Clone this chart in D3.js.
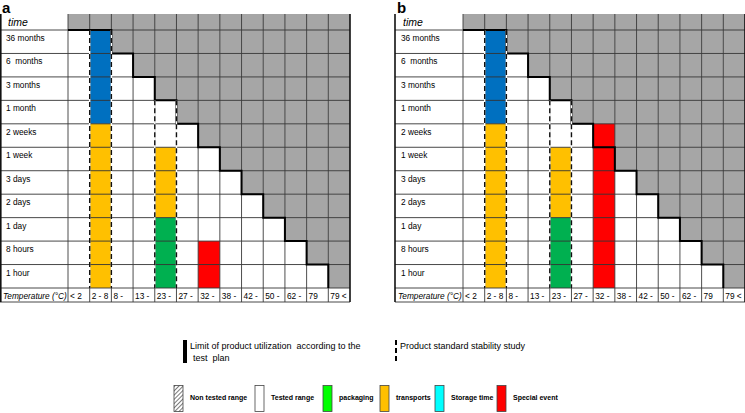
<!DOCTYPE html>
<html><head><meta charset="utf-8">
<script src="https://cdn.jsdelivr.net/npm/d3@7"></script>
<style>body{margin:0;background:#fff}svg{display:block}text{font-family:"Liberation Sans",Arial,sans-serif}</style>
</head><body><svg id="c" width="745" height="413"></svg>
<script>
const times = ["36 months","6  months","3 months","1 month","2 weeks","1 week","3 days","2 days","1 day","8 hours","1 hour"];
const temps = ["< 2","2 - 8","8 -","13 -","23 -","27 -","32 -","38 -","42 -","50 -","62 -","79","79 <"];
// last tested temperature for each duration (limit of the test plan)
const limitTemp = ["2 - 8","8 -","13 -","23 -","27 -","32 -","38 -","42 -","50 -","62 -","79"];
// colored ranges: [temperature, from time, to time, type]
const bandsA = [
  ["2 - 8","36 months","1 month","storage"],
  ["2 - 8","2 weeks","1 hour","transports"],
  ["23 -","1 week","2 days","transports"],
  ["23 -","1 day","1 hour","packaging"],
  ["32 -","8 hours","1 hour","special"]
];
const bandsB = [
  ["2 - 8","36 months","1 month","storage"],
  ["2 - 8","2 weeks","1 hour","transports"],
  ["23 -","1 week","2 days","transports"],
  ["23 -","1 day","1 hour","packaging"],
  ["32 -","2 weeks","1 hour","special"]
];
// standard stability study (dashed borders): [temperature, starting time]
const studies = [["2 - 8","36 months"],["23 -","1 month"]];
const legendItems = [
  ["Non tested range","hatch"],["Tested range","#ffffff"],["packaging","#00ff00"],
  ["transports","#ffc000"],["Storage time","#00ffff"],["Special event","#ff0000"]
];
const colors = {storage:"#0070c0", transports:"#ffc000", packaging:"#00b050", special:"#ff0000"};

const svg = d3.select("#c");
const defs = svg.append("defs");
const pat = defs.append("pattern").attr("id","hatch").attr("patternUnits","userSpaceOnUse")
  .attr("width",3).attr("height",3).attr("patternTransform","rotate(45)");
pat.append("rect").attr("width",3).attr("height",3).attr("fill","#fff");
pat.append("line").attr("x1",0).attr("y1",0).attr("x2",0).attr("y2",3).attr("stroke","#333").attr("stroke-width",1.3);

const panels = [{key:"a", x0:0, bands:bandsA},{key:"b", x0:395, bands:bandsB}];
const tTop = 14, headB = 30, tableB = 288, tBottom = 302, labW = 68, tRight = 350;

panels.forEach(p => {
  const g = svg.append("g").attr("transform",`translate(${p.x0},0)`);
  const x = d3.scaleBand().domain(temps).range([labW,tRight]);
  const y = d3.scaleBand().domain(times).range([headB,tableB]);
  const bw = x.bandwidth(), bh = y.bandwidth();
  g.append("rect").attr("x",labW).attr("y",tTop).attr("width",tRight-labW).attr("height",headB-tTop).attr("fill","#a6a6a6");
  times.forEach((t,i) => {
    const li = temps.indexOf(limitTemp[i]);
    temps.forEach((tp,j) => {
      g.append("rect").attr("x",x(tp)).attr("y",y(t)).attr("width",bw).attr("height",bh)
        .attr("fill", j>li ? "#a6a6a6" : "#ffffff");
    });
  });
  p.bands.forEach(b => {
    g.append("rect").attr("x",x(b[0])).attr("y",y(b[1])).attr("width",bw)
      .attr("height",y(b[2])+bh-y(b[1])).attr("fill",colors[b[3]]);
  });
  const hs = [headB, ...times.slice(1).map(t=>y(t)), tableB, tBottom];
  hs.forEach(v => g.append("line").attr("x1",0).attr("x2",tRight).attr("y1",v).attr("y2",v)
    .attr("stroke","#333").attr("stroke-width",0.9));
  const vs = [labW, ...temps.slice(1).map(t=>x(t))];
  vs.forEach(v => g.append("line").attr("x1",v).attr("x2",v).attr("y1",tTop).attr("y2",tBottom)
    .attr("stroke","#3a3a3a").attr("stroke-width",0.9));
  const lx0 = p.x0===0 ? 0.8 : 0;
  g.append("line").attr("x1",lx0).attr("x2",lx0).attr("y1",tTop).attr("y2",tBottom).attr("stroke","#111").attr("stroke-width",1.6);
  g.append("line").attr("x1",tRight).attr("x2",tRight).attr("y1",tTop).attr("y2",tBottom).attr("stroke","#111").attr("stroke-width",1.6);
  let pts = [[labW, headB]];
  times.forEach((t,i) => {
    const xe = x(limitTemp[i]) + bw;
    pts.push([xe, y(t)]);
    pts.push([xe, y(t)+bh]);
  });
  g.append("path").attr("d", d3.line()(pts)).attr("fill","none").attr("stroke","#000").attr("stroke-width",2);
  studies.forEach(s => {
    [x(s[0]), x(s[0])+bw].forEach(xv => {
      g.append("line").attr("x1",xv).attr("x2",xv).attr("y1",y(s[1])).attr("y2",tableB)
        .attr("stroke","#fff").attr("stroke-width",1.4);
      g.append("line").attr("x1",xv).attr("x2",xv).attr("y1",y(s[1])).attr("y2",tableB)
        .attr("stroke","#111").attr("stroke-width",1.4).attr("stroke-dasharray","5,3");
    });
  });
  g.append("text").attr("x",2).attr("y",13).attr("font-size",15).attr("font-weight","bold").text(p.key);
  g.append("text").attr("x",8).attr("y",26).attr("font-size",10.5).attr("font-style","italic").text("time");
  times.forEach(t => g.append("text").attr("x",6).attr("y",y(t)+11).attr("font-size",8.3).style("white-space","pre").text(t));
  g.append("text").attr("x",3).attr("y",298.5).attr("font-size",8.3).attr("font-style","italic").text("Temperature (°C)");
  temps.forEach(t => g.append("text").attr("x",x(t)+2).attr("y",298.5).attr("font-size",8.3).text(t));
});

svg.append("rect").attr("x",183).attr("y",340).attr("width",4).attr("height",23).attr("fill","#000");
svg.append("text").attr("x",190).attr("y",349).attr("font-size",9).style("white-space","pre").text("Limit of product utilization  according to the");
svg.append("text").attr("x",193).attr("y",361).attr("font-size",9).style("white-space","pre").text("test  plan");
svg.append("line").attr("x1",396).attr("x2",396).attr("y1",340).attr("y2",363).attr("stroke","#000").attr("stroke-width",2).attr("stroke-dasharray","5,3");
svg.append("text").attr("x",400).attr("y",349).attr("font-size",9).text("Product standard stability study");

const lx = [174,255,323,380,435,497];
legendItems.forEach((d,i) => {
  svg.append("rect").attr("x",lx[i]).attr("y",385.5).attr("width",9).attr("height",26)
    .attr("fill", d[1]==="hatch" ? "url(#hatch)" : d[1]).attr("stroke","#444").attr("stroke-width",0.8);
  svg.append("text").attr("x",lx[i]+16).attr("y",400).attr("font-size",7).attr("font-weight","bold").text(d[0]);
});
</script></body></html>
